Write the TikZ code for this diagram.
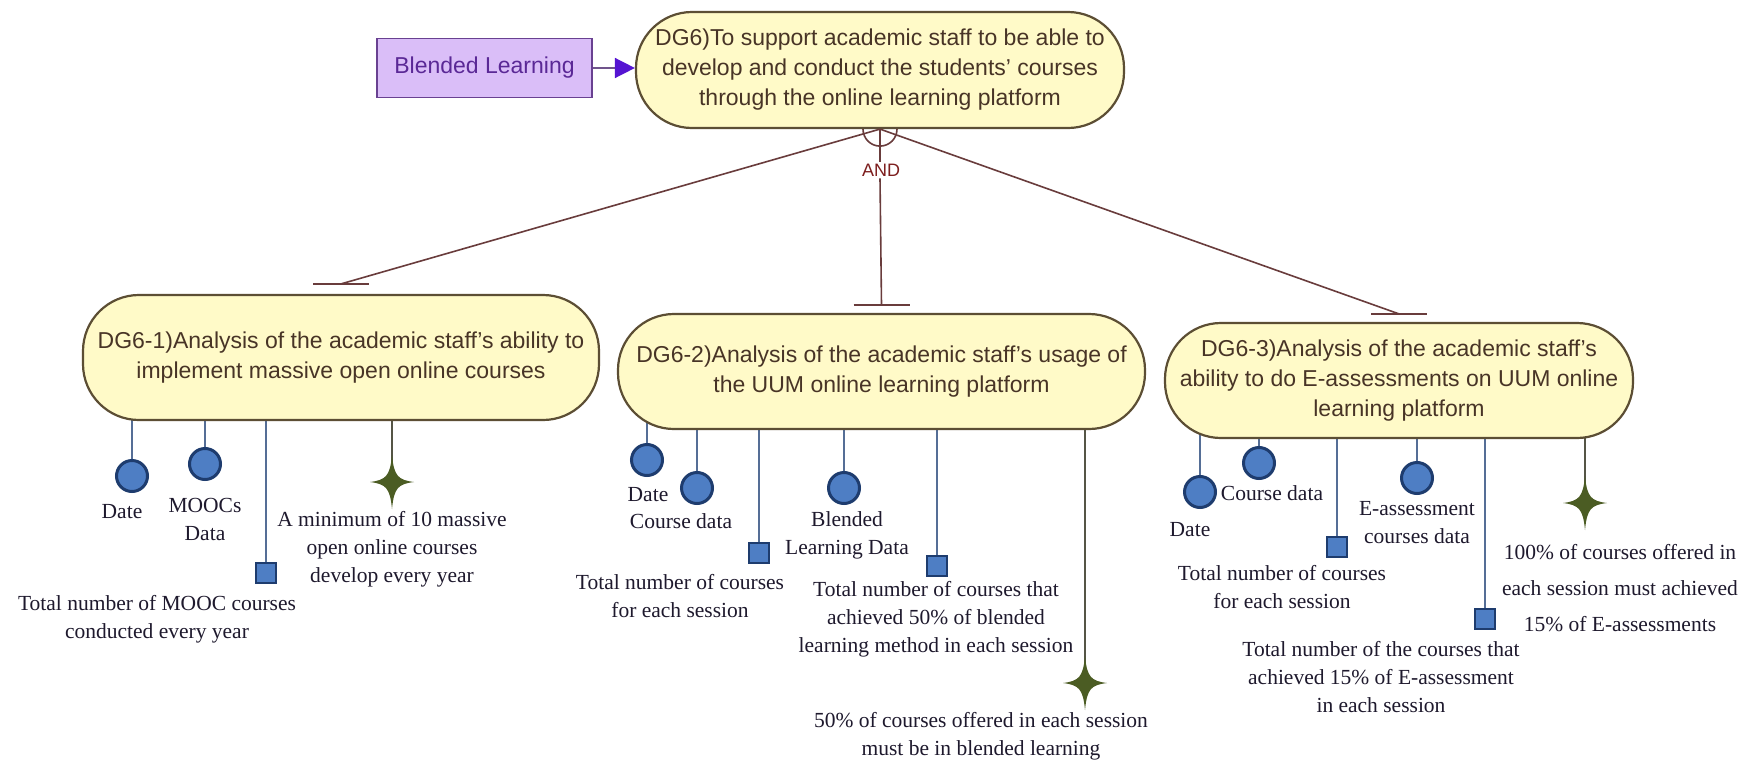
\documentclass[tikz,border=0pt]{standalone}
\usepackage{fontspec}
\setmainfont{Liberation Serif}
\setsansfont{Liberation Sans}
\usetikzlibrary{arrows.meta,calc}
\pgfdeclarelayer{bg}
\pgfdeclarelayer{paper}
\pgfsetlayers{paper,bg,main}

\definecolor{goalfill}{RGB}{255,250,200}
\definecolor{goalline}{RGB}{92,78,52}
\definecolor{goaltext}{RGB}{72,52,38}
\definecolor{andc}{RGB}{105,60,60}
\definecolor{andtext}{RGB}{125,30,30}
\definecolor{markfill}{RGB}{78,126,196}
\definecolor{markline}{RGB}{30,60,110}
\definecolor{stemc}{RGB}{85,110,150}
\definecolor{starc}{RGB}{75,92,35}
\definecolor{starstem}{RGB}{85,85,70}
\definecolor{lbltext}{RGB}{30,25,45}
\definecolor{blfill}{RGB}{218,190,248}
\definecolor{blline}{RGB}{105,65,145}
\definecolor{bltext}{RGB}{90,40,150}
\definecolor{tipc}{RGB}{85,20,210}

\tikzset{
  goal/.style={draw=goalline, fill=goalfill, line width=2.2pt, rounded corners=56pt,
    align=center, text=goaltext, inner sep=0pt,
    font=\sffamily\fontsize{23}{30}\selectfont},
  softgoal/.style={draw=blline, fill=blfill, line width=1.8pt, text=bltext,
    font=\sffamily\fontsize{23}{29}\selectfont, minimum width=215pt, minimum height=59pt, inner sep=0pt},
  resource/.style={circle, draw=markline, fill=markfill, line width=3pt, minimum size=31pt, inner sep=0pt},
  measure/.style={rectangle, draw=markline, fill=markfill, line width=2.5pt, minimum size=20pt, inner sep=0pt},
  lbl/.style={font=\fontsize{21.5}{28}\selectfont, text=lbltext, align=center, inner sep=0pt},
  stem/.style={draw=stemc, line width=1.3pt},
  starstemline/.style={draw=starstem, line width=1.5pt},
  andline/.style={draw=andc, line width=1.6pt},
  teebar/.style={draw=andc, line width=2pt},
  sparkle/.pic={
    \fill[starc] (0,-27) .. controls (2,-6) and (6,-2) .. (22,0)
      .. controls (6,2) and (2,6) .. (0,27)
      .. controls (-2,6) and (-6,2) .. (-22,0)
      .. controls (-6,-2) and (-2,-6) .. (0,-27) -- cycle;
  }
}

\begin{document}
\begin{tikzpicture}[x=1pt,y=-1pt]
\useasboundingbox (0,0) rectangle (1749,763);
\begin{pgfonlayer}{paper}
  \fill[white] (0,0) rectangle (1749,763);
\end{pgfonlayer}

% goals
\node[goal, minimum width=488pt, minimum height=116pt] (g0) at (880,70)
  {DG6)To support academic staff to be able to\\develop and conduct the students' courses\\through the online learning platform};
\node[softgoal] (bl) at (484.5,68) {Blended Learning};

\node[goal, minimum width=516pt, minimum height=125pt] (g1) at (341,357.5)
  {DG6-1)Analysis of the academic staff's ability to\\implement massive open online courses};
\node[goal, minimum width=527pt, minimum height=115pt] (g2) at (881.5,371.5)
  {DG6-2)Analysis of the academic staff's usage of\\the UUM online learning platform};
\node[goal, minimum width=468pt, minimum height=115pt] (g3) at (1399,380.5)
  {DG6-3)Analysis of the academic staff's\\ability to do E-assessments on UUM online\\learning platform};

% contribution from the soft goal
\draw[line width=1.5pt, draw=blline!70!gray, -{Triangle[length=20pt,width=20pt,color=tipc]}]
  (bl.east) -- (bl.east -| g0.west);

% AND decomposition
\coordinate (t1) at ($(g1.north)+(0,-10)$);
\coordinate (t2) at ($(g2.north)+(0,-8)$);
\coordinate (t3) at ($(g3.north)+(0,-8)$);
\node[font=\sffamily\fontsize{18}{20}\selectfont, text=andtext, inner sep=2pt] (andl) at (881,170) {AND};
\draw[andline] (g0.south) -- (t1);
\draw[andline] (g0.south) -- (t3);
\draw[andline] (g0.south) -- (andl.north -| g0.south);
\draw[andline] (andl.south -| g0.south) -- (t2);
\draw[andline] ($(g0.south)+(-17,0)$) arc[start angle=180, end angle=0, radius=17];
\foreach \t in {t1,t2,t3} \draw[teebar] ($(\t)+(-28,0)$) -- ($(\t)+(28,0)$);

% DG6-1 attributes
\node[resource] (a1) at (132,476) {};
\node[resource] (a2) at (205,464) {};
\node[measure] (a3) at (266,573) {};
\coordinate (a4) at (392,482);
\pic at (a4) {sparkle};
\node[lbl] (la1) at (122,512) {Date};
\node[lbl] (la2) at (205,519) {MOOCs\\Data};
\node[lbl] (la3) at (157,619) {Total number of MOOC courses\\conducted every year};
\node[lbl] (la4) at (392,549) {A minimum of 10 massive\\open online courses\\develop every year};

% DG6-2 attributes
\node[resource] (b1) at (647,460) {};
\node[resource] (b2) at (697,488) {};
\node[measure] (b3) at (759,553) {};
\node[resource] (b4) at (844,488) {};
\node[measure] (b5) at (937,566) {};
\coordinate (b6) at (1085,683);
\pic at (b6) {sparkle};
\node[lbl] (lb1) at (648,495) {Date};
\node[lbl] (lb2) at (681,521) {Course data};
\node[lbl] (lb3) at (680,596) {Total number of courses\\for each session};
\node[lbl] (lb4) at (847,535) {Blended\\Learning Data};
\node[lbl] (lb5) at (936,619) {Total number of courses that\\achieved 50\% of blended\\learning method in each session};
\node[lbl] (lb6) at (981,736) {50\% of courses offered in each session\\must be in blended learning};

% DG6-3 attributes
\node[resource] (c1) at (1200,492) {};
\node[resource] (c2) at (1259,463) {};
\node[measure] (c3) at (1337,547) {};
\node[resource] (c4) at (1417,478) {};
\node[measure] (c5) at (1485,619) {};
\coordinate (c6) at (1585,503);
\pic at (c6) {sparkle};
\node[lbl] (lc1) at (1190,530) {Date};
\node[lbl] (lc2) at (1272,493) {Course data};
\node[lbl] (lc3) at (1282,587) {Total number of courses\\for each session};
\node[lbl] (lc4) at (1417,523) {E-assessment\\courses data};
\node[lbl] (lc5) at (1381,677) {Total number of the courses that\\achieved 15\% of E-assessment\\in each session};
\node[lbl, font=\fontsize{21.5}{36}\selectfont] (lc6) at (1620,588) {100\% of courses offered in\\each session must achieved\\15\% of E-assessments};

% attribute links, behind the goals and markers
\begin{pgfonlayer}{bg}
  \foreach \m in {a1,a2,a3} \draw[stem] (g1.center -| \m) -- (\m);
  \draw[starstemline] (g1.center -| a4) -- (a4);
  \foreach \m in {b1,b2,b3,b4,b5} \draw[stem] (g2.center -| \m) -- (\m);
  \draw[starstemline] (g2.center -| b6) -- (b6);
  \foreach \m in {c1,c2,c3,c4,c5} \draw[stem] (g3.center -| \m) -- (\m);
  \draw[starstemline] (g3.center -| c6) -- (c6);
\end{pgfonlayer}
\end{tikzpicture}
\end{document}
